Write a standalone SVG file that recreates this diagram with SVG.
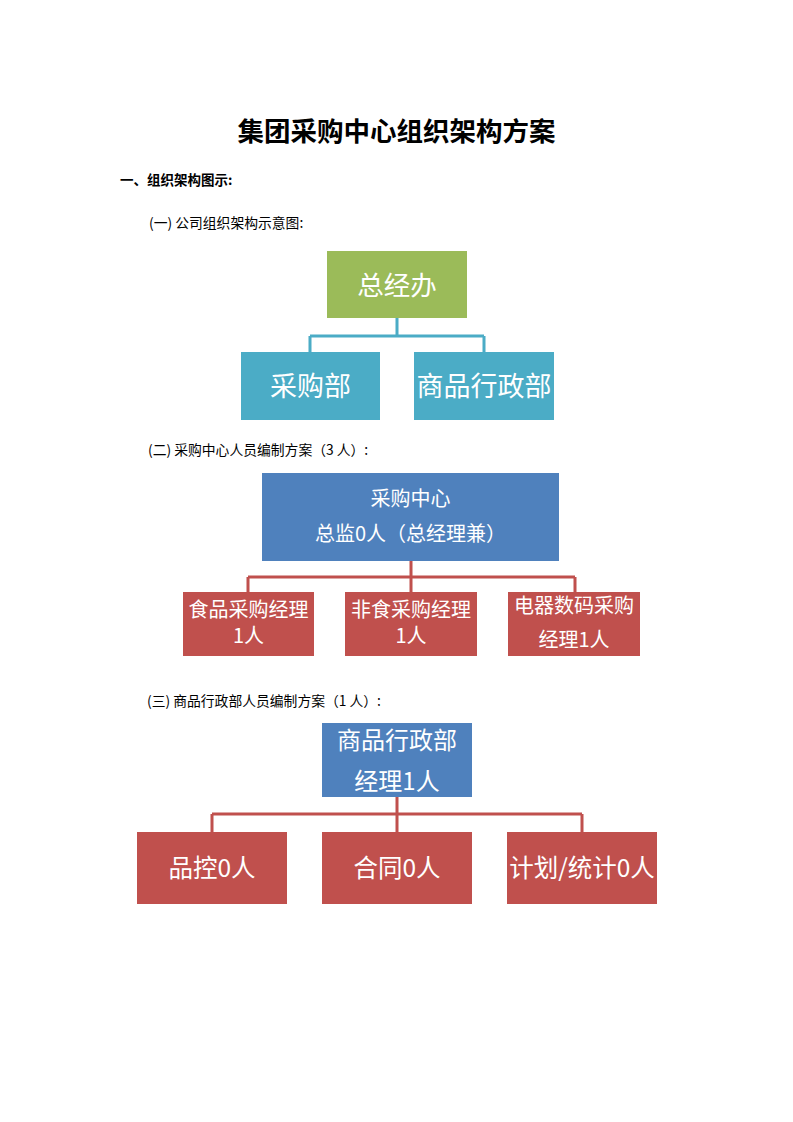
<svg xmlns="http://www.w3.org/2000/svg" width="793" height="1122" viewBox="0 0 793 1122">
<style>
.t{font-family:"Noto Sans CJK SC","Noto Sans",sans-serif;fill:#000}
.n{font-family:"Noto Sans CJK SC","Noto Sans",sans-serif;fill:#ffffff;text-anchor:middle}
.green{fill:#9BBB59}
.teal{fill:#4BACC6}
.blue{fill:#4F81BD}
.red{fill:#C0504D}
.c1{stroke:#4BACC6;stroke-width:3;fill:none}
.c2{stroke:#C0504D;stroke-width:3;fill:none}
</style>
<rect width="793" height="1122" fill="#ffffff"/>
<text class="t" x="396.5" y="141" font-size="26.5" font-weight="bold" text-anchor="middle">集团采购中心组织架构方案</text>
<text class="t" x="120" y="185" font-size="13.5" font-weight="bold">一、组织架构图示:</text>
<text class="t" x="149" y="228" font-size="13.8">(一) 公司组织架构示意图:</text>
<text class="t" x="148" y="455" font-size="13.8">(二) 采购中心人员编制方案（3 人）:</text>
<text class="t" x="147" y="706" font-size="13.8">(三) 商品行政部人员编制方案（1 人）:</text>

<g id="connectors">
<path class="c1" d="M397,318 V336 M310,336 H484 M310,336 V352 M484,336 V352"/>
<path class="c2" d="M411,561 V592 M248,577 H575 M248,577 V592 M575,577 V592"/>
<path class="c2" d="M397,797 V832 M212,814 H582 M212,814 V832 M582,814 V832"/>
</g>

<g id="zongjingban">
<rect class="green" x="327" y="251" width="140" height="67"/>
<text class="n" x="397" y="295" font-size="26.5">总经办</text>
</g>
<g id="caigoubu">
<rect class="teal" x="241" y="352" width="139" height="68"/>
<text class="n" x="310.5" y="396" font-size="27">采购部</text>
</g>
<g id="shangpinxingzhengbu">
<rect class="teal" x="414" y="352" width="140" height="68"/>
<text class="n" x="484" y="396" font-size="27">商品行政部</text>
</g>

<g id="caigouzhongxin">
<rect class="blue" x="262" y="473" width="297" height="88"/>
<text class="n" font-size="20"><tspan x="410.5" y="506">采购中心</tspan><tspan x="410.5" y="541">总监0人（总经理兼）</tspan></text>
</g>
<g id="shipin">
<rect class="red" x="183" y="592" width="131" height="64"/>
<text class="n" font-size="20"><tspan x="248.5" y="617">食品采购经理</tspan><tspan x="248.5" y="643">1人</tspan></text>
</g>
<g id="feishi">
<rect class="red" x="345" y="592" width="132" height="64"/>
<text class="n" font-size="20"><tspan x="411" y="617">非食采购经理</tspan><tspan x="411" y="643">1人</tspan></text>
</g>
<g id="dianqi">
<rect class="red" x="508" y="592" width="132" height="64"/>
<text class="n" font-size="20"><tspan x="574" y="613">电器数码采购</tspan><tspan x="574" y="647">经理1人</tspan></text>
</g>

<g id="shangpin-jingli">
<rect class="blue" x="322" y="723" width="150" height="74"/>
<text class="n" font-size="24"><tspan x="397" y="749">商品行政部</tspan><tspan x="397" y="790">经理1人</tspan></text>
</g>
<g id="pinkong">
<rect class="red" x="137" y="832" width="150" height="72"/>
<text class="n" x="212" y="877" font-size="24.5">品控0人</text>
</g>
<g id="hetong">
<rect class="red" x="322" y="832" width="150" height="72"/>
<text class="n" x="397" y="877" font-size="24.5">合同0人</text>
</g>
<g id="jihua">
<rect class="red" x="507" y="832" width="150" height="72"/>
<text class="n" x="582" y="877" font-size="24.5">计划/统计0人</text>
</g>
</svg>
